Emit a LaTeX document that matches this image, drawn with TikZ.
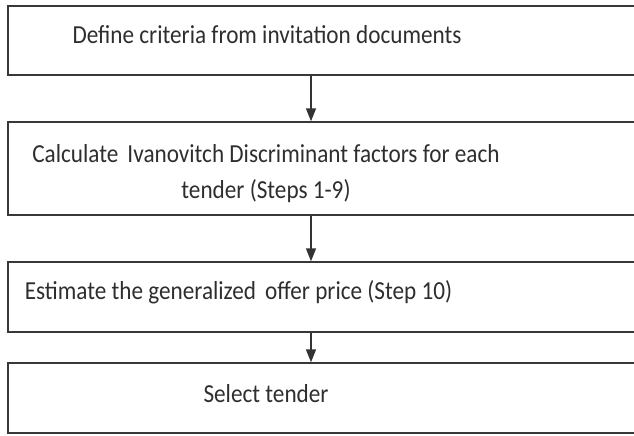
\documentclass[tikz,border=0pt]{standalone}
\usepackage{fontspec}
\usepackage{graphicx}
\setmainfont{Carlito}
\usetikzlibrary{arrows.meta}
\newcommand\tallt[1]{\scalebox{1}[1.12]{#1}}
\begin{document}
\begin{tikzpicture}[x=1pt,y=1pt,
  box/.style={draw=black!78,line width=1.7pt,inner sep=0pt,anchor=south west},
  lbl/.style={inner sep=0pt,font=\fontsize{23.2}{36}\selectfont,text=black!82,align=center},
  arr/.style={draw=black!80,line width=1.5pt,-{Triangle[width=10pt,length=13pt]}}]
\useasboundingbox (0,0) rectangle (634,436);
\clip (0,0) rectangle (634,436);
\node[box,minimum width=660pt,minimum height=69pt] (b1) at (7,360) {};
\node[box,minimum width=660pt,minimum height=93pt] (b2) at (7,220) {};
\node[box,minimum width=660pt,minimum height=70pt] (b3) at (7,103) {};
\node[box,minimum width=660pt,minimum height=70pt] (b4) at (7,2) {};
\coordinate (ax) at (311,0);
\node[lbl,anchor=base] (t1) at (267,392) {\tallt{Define criteria from invitation documents}};
\node[lbl] (t2) at (266,262) {\tallt{Calculate\, Ivanovitch Discriminant factors for each}\\\tallt{tender (Steps 1-9)}};
\node[lbl,anchor=base] (t3) at (238.5,136) {\tallt{Estimate the generalized\, offer price (Step 10)}};
\node[lbl,anchor=base] (t4) at (266,33) {\tallt{Select tender}};
\draw[arr] (b1.south -| ax) -- (b2.north -| ax);
\draw[arr] (b2.south -| ax) -- (b3.north -| ax);
\draw[arr] (b3.south -| ax) -- (b4.north -| ax);
\end{tikzpicture}
\end{document}
